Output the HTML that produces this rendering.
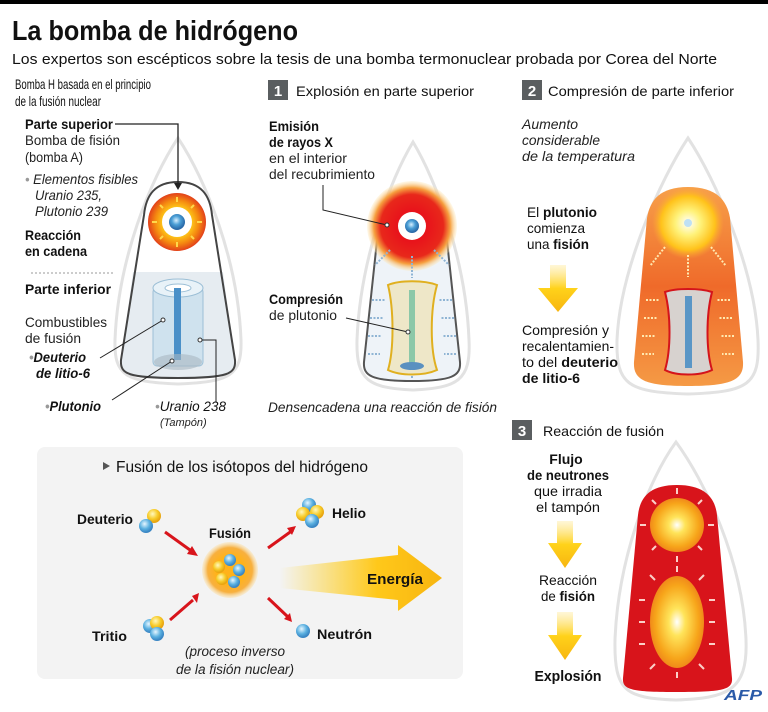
<!DOCTYPE html>
<html><head><meta charset="utf-8"><style>
html,body{margin:0;padding:0;background:#fff;}
svg{display:block;font-family:"Liberation Sans",sans-serif;}
.b{font-weight:bold}
.i{font-style:italic}
</style></head><body>
<svg width="768" height="712" viewBox="0 0 768 712" xmlns="http://www.w3.org/2000/svg">
<defs>
<radialGradient id="fis" cx="50%" cy="50%" r="50%"><stop offset="0.45" stop-color="#ffd21a"/><stop offset="0.75" stop-color="#f58a10"/><stop offset="1" stop-color="#e2401a"/></radialGradient>
<radialGradient id="core" cx="45%" cy="40%" r="55%"><stop offset="0" stop-color="#d8f0ff"/><stop offset="0.5" stop-color="#4b9fd6"/><stop offset="1" stop-color="#2a6aa8"/></radialGradient>
<radialGradient id="xr" cx="50%" cy="50%" r="50%"><stop offset="0.35" stop-color="#e8141b"/><stop offset="0.7" stop-color="#e8281b"/><stop offset="0.85" stop-color="#f6a040"/><stop offset="1" stop-color="#fde9b8" stop-opacity="0.3"/></radialGradient>
<radialGradient id="sun" cx="50%" cy="50%" r="50%"><stop offset="0" stop-color="#fff"/><stop offset="0.35" stop-color="#fff27a"/><stop offset="0.75" stop-color="#ffc21a"/><stop offset="1" stop-color="#f9a53a" stop-opacity="0"/></radialGradient>
<linearGradient id="org" x1="0" y1="0" x2="0" y2="1"><stop offset="0" stop-color="#f7a04a"/><stop offset="0.5" stop-color="#ef6a2a"/><stop offset="1" stop-color="#f59a45"/></linearGradient>
<radialGradient id="ball" cx="50%" cy="50%" r="50%"><stop offset="0" stop-color="#fff"/><stop offset="0.3" stop-color="#ffe45a"/><stop offset="0.8" stop-color="#f7a51a"/><stop offset="1" stop-color="#f08a1a"/></radialGradient>
<radialGradient id="fu" cx="50%" cy="50%" r="50%"><stop offset="0.5" stop-color="#ffb21a"/><stop offset="0.8" stop-color="#f7b040"/><stop offset="1" stop-color="#fbe0a8" stop-opacity="0.4"/></radialGradient>
<radialGradient id="bl" cx="40%" cy="35%" r="60%"><stop offset="0" stop-color="#e6f6ff"/><stop offset="0.6" stop-color="#5ab0e0"/><stop offset="1" stop-color="#3a86c4"/></radialGradient>
<radialGradient id="yl" cx="40%" cy="35%" r="60%"><stop offset="0" stop-color="#fff8c0"/><stop offset="0.6" stop-color="#f7cc2a"/><stop offset="1" stop-color="#e8a510"/></radialGradient>
<linearGradient id="en" x1="0" y1="0" x2="1" y2="0"><stop offset="0" stop-color="#ffd21a" stop-opacity="0"/><stop offset="0.6" stop-color="#ffc81a"/><stop offset="1" stop-color="#f7b510"/></linearGradient>
<linearGradient id="ya" x1="0" y1="0" x2="0" y2="1"><stop offset="0" stop-color="#ffe37a" stop-opacity="0.3"/><stop offset="0.5" stop-color="#ffd21a"/><stop offset="1" stop-color="#f7b510"/></linearGradient>
</defs>

<rect x="0" y="0" width="768" height="4" fill="#000"/>
<text x="12" y="40" font-size="28" class="b" textLength="286" lengthAdjust="spacingAndGlyphs" fill="#111">La bomba de hidrógeno</text>
<text x="12" y="64" font-size="15" textLength="705" lengthAdjust="spacingAndGlyphs" fill="#111">Los expertos son escépticos sobre la tesis de una bomba termonuclear probada por Corea del Norte</text>

<text x="15" y="89" font-size="14" textLength="136" lengthAdjust="spacingAndGlyphs" fill="#111">Bomba H basada en el principio</text>
<text x="15" y="106" font-size="14" textLength="86" lengthAdjust="spacingAndGlyphs" fill="#111">de la fusión nuclear</text>

<rect x="268" y="80" width="20" height="20" fill="#5a5e60"/><text x="278" y="96" font-size="15" class="b" fill="#fff" text-anchor="middle">1</text>
<text x="296" y="96" font-size="14" textLength="178" lengthAdjust="spacingAndGlyphs" fill="#111">Explosión en parte superior</text>
<rect x="522" y="80" width="20" height="20" fill="#5a5e60"/><text x="532" y="96" font-size="15" class="b" fill="#fff" text-anchor="middle">2</text>
<text x="548" y="96" font-size="14" textLength="186" lengthAdjust="spacingAndGlyphs" fill="#111">Compresión de parte inferior</text>

<!-- Bomb 1 -->
<path d="M178 138 C150 180 118 260 115 340 C114 375 125 382 178 384 C231 382 242 375 241 340 C238 260 206 180 178 138Z" fill="#fff" stroke="#e2e2e2" stroke-width="3"/>
<path d="M133 272 L121 360 C120 374 128 378 178 378 C228 378 236 374 235 360 L223 272Z" fill="#e6ecf1"/>
<path d="M178 182 C155 182 146 195 144 215 L121 360 C120 374 128 378 178 378 C228 378 236 374 235 360 L212 215 C210 195 201 182 178 182Z" fill="none" stroke="#444" stroke-width="2"/>
<circle cx="177" cy="222" r="29" fill="url(#fis)"/>
<circle cx="177" cy="222" r="15" fill="#fff"/>
<circle cx="177" cy="222" r="8" fill="url(#core)"/>
<g stroke="#ffd84a" stroke-width="2"><line x1="177" y1="197" x2="177" y2="202"/><line x1="177" y1="242" x2="177" y2="247"/><line x1="152" y1="222" x2="157" y2="222"/><line x1="197" y1="222" x2="202" y2="222"/><line x1="160" y1="205" x2="163" y2="208"/><line x1="191" y1="236" x2="194" y2="239"/><line x1="194" y1="205" x2="191" y2="208"/><line x1="163" y1="236" x2="160" y2="239"/></g>
<rect x="153" y="288" width="50" height="78" rx="4" fill="#cfe2ee" stroke="#9cbfd6"/>
<ellipse cx="178" cy="288" rx="25" ry="9" fill="#e8f2f8" stroke="#9cbfd6"/>
<ellipse cx="178" cy="288" rx="13" ry="4" fill="#fff" stroke="#9cbfd6"/>
<rect x="174" y="288" width="7" height="72" fill="#4a90c8"/>
<ellipse cx="178" cy="362" rx="24" ry="8" fill="#a9b8c2" opacity="0.6"/>
<text x="25" y="129" font-size="14" class="b" textLength="88" lengthAdjust="spacingAndGlyphs" fill="#111">Parte superior</text>
<polyline points="115,124 178,124 178,186" fill="none" stroke="#222" stroke-width="1.3"/>
<path d="M174 183 L178 190 L182 183Z" fill="#222"/>
<g font-size="14" fill="#222">
<text x="25" y="145" textLength="95" lengthAdjust="spacingAndGlyphs">Bomba de fisión</text>
<text x="25" y="162" textLength="58" lengthAdjust="spacingAndGlyphs">(bomba A)</text>
<text x="25" y="184" class="i" textLength="113" lengthAdjust="spacingAndGlyphs"><tspan fill="#999">•</tspan> Elementos fisibles</text>
<text x="35" y="200" class="i" textLength="67" lengthAdjust="spacingAndGlyphs">Uranio 235,</text>
<text x="35" y="216" class="i" textLength="73" lengthAdjust="spacingAndGlyphs">Plutonio 239</text>
<text x="25" y="240" class="b" fill="#111" textLength="56" lengthAdjust="spacingAndGlyphs">Reacción</text>
<text x="25" y="256" class="b" fill="#111" textLength="62" lengthAdjust="spacingAndGlyphs">en cadena</text>
<text x="25" y="294" class="b" fill="#111" textLength="86" lengthAdjust="spacingAndGlyphs">Parte inferior</text>
<text x="25" y="327" textLength="82" lengthAdjust="spacingAndGlyphs">Combustibles</text>
<text x="25" y="343" textLength="56" lengthAdjust="spacingAndGlyphs">de fusión</text>
<text x="29" y="362" class="b i" fill="#111" textLength="57" lengthAdjust="spacingAndGlyphs"><tspan fill="#999">•</tspan>Deuterio</text>
<text x="36" y="378" class="b i" fill="#111" textLength="54" lengthAdjust="spacingAndGlyphs">de litio-6</text>
<text x="45" y="411" class="b i" fill="#111" textLength="56" lengthAdjust="spacingAndGlyphs"><tspan fill="#999">•</tspan>Plutonio</text>
<text x="155" y="411" class="i" fill="#111" textLength="71" lengthAdjust="spacingAndGlyphs"><tspan fill="#999">•</tspan>Uranio 238</text>
</g>
<line x1="31" y1="273" x2="113" y2="273" stroke="#999" stroke-dasharray="2,2"/>
<text x="160" y="426" font-size="11" class="i" fill="#222">(Tampón)</text>
<g fill="none" stroke="#222" stroke-width="1"><line x1="100" y1="358" x2="163" y2="320"/><line x1="112" y1="400" x2="172" y2="361"/><polyline points="200,340 216,340 216,402"/></g>
<g fill="#fff" stroke="#333"><circle cx="163" cy="320" r="2"/><circle cx="172" cy="361" r="2"/><circle cx="200" cy="340" r="2"/></g>

<!-- Bomb 2 -->
<path d="M413 142 C390 180 360 260 357 340 C356 380 368 388 413 390 C458 388 471 380 469 340 C466 260 436 180 413 142Z" fill="#fff" stroke="#e2e2e2" stroke-width="3"/>
<path d="M412 192 C390 192 382 205 379 222 L364 362 C363 376 372 381 412 381 C452 381 461 376 460 362 L445 222 C442 205 434 192 412 192Z" fill="#eef3f8" stroke="#555" stroke-width="2"/>
<circle cx="412" cy="226" r="45" fill="url(#xr)"/>
<circle cx="412" cy="226" r="14" fill="#fff"/>
<circle cx="412" cy="226" r="7" fill="url(#core)"/>
<g stroke="#8fb4d4" stroke-width="2" stroke-dasharray="2,1.5">
<line x1="412" y1="256" x2="412" y2="278"/><line x1="390" y1="250" x2="375" y2="265"/><line x1="434" y1="250" x2="449" y2="265"/>
<line x1="372" y1="300" x2="386" y2="300"/><line x1="370" y1="318" x2="384" y2="318"/><line x1="368" y1="336" x2="382" y2="336"/><line x1="368" y1="354" x2="380" y2="354"/>
<line x1="452" y1="300" x2="438" y2="300"/><line x1="454" y1="318" x2="440" y2="318"/><line x1="456" y1="336" x2="442" y2="336"/><line x1="456" y1="354" x2="444" y2="354"/>
<line x1="412" y1="378" x2="412" y2="372"/></g>
<path d="M388 285 C400 280 424 280 437 285 C430 310 430 350 437 370 C424 376 400 376 388 370 C394 350 394 310 388 285Z" fill="#eee7c8" stroke="#e0b020" stroke-width="2"/>
<rect x="409" y="290" width="6" height="76" fill="#8cc8a8"/>
<ellipse cx="412" cy="366" rx="12" ry="4" fill="#5a90c0"/>
<g font-size="14" fill="#222">
<text x="269" y="131" class="b" fill="#111" textLength="50" lengthAdjust="spacingAndGlyphs">Emisión</text>
<text x="269" y="147" class="b" fill="#111" textLength="64" lengthAdjust="spacingAndGlyphs">de rayos X</text>
<text x="269" y="163" textLength="78" lengthAdjust="spacingAndGlyphs">en el interior</text>
<text x="269" y="179" textLength="106" lengthAdjust="spacingAndGlyphs">del recubrimiento</text>
<text x="269" y="304" class="b" fill="#111" textLength="74" lengthAdjust="spacingAndGlyphs">Compresión</text>
<text x="269" y="320" textLength="68" lengthAdjust="spacingAndGlyphs">de plutonio</text>
<text x="268" y="412" class="i" textLength="229" lengthAdjust="spacingAndGlyphs">Densencadena una reacción de fisión</text>
</g>
<polyline points="323,185 323,210 387,225" fill="none" stroke="#222"/><circle cx="387" cy="225" r="2" fill="#fff" stroke="#333"/>
<line x1="346" y1="318" x2="408" y2="332" stroke="#222"/><circle cx="408" cy="332" r="2" fill="#fff" stroke="#333"/>

<!-- Bomb 3 -->
<path d="M688 138 C660 180 620 270 617 340 C616 385 628 392 688 394 C748 392 760 385 758 340 C755 270 716 180 688 138Z" fill="#fff" stroke="#e2e2e2" stroke-width="3"/>
<path d="M688 187 C660 187 650 200 647 218 L634 362 C633 380 645 386 688 386 C731 386 744 380 743 362 L730 218 C727 200 716 187 688 187Z" fill="url(#org)"/>
<circle cx="688" cy="223" r="36" fill="url(#sun)"/>
<circle cx="688" cy="223" r="4" fill="#bfe0f4"/>
<g stroke="#ffe9b0" stroke-width="2" stroke-dasharray="2,1.5">
<line x1="688" y1="255" x2="688" y2="277"/><line x1="665" y1="247" x2="650" y2="266"/><line x1="711" y1="247" x2="726" y2="266"/>
<line x1="646" y1="300" x2="660" y2="300"/><line x1="644" y1="318" x2="658" y2="318"/><line x1="642" y1="336" x2="656" y2="336"/><line x1="642" y1="354" x2="654" y2="354"/>
<line x1="730" y1="300" x2="716" y2="300"/><line x1="732" y1="318" x2="718" y2="318"/><line x1="734" y1="336" x2="720" y2="336"/><line x1="734" y1="354" x2="722" y2="354"/></g>
<path d="M665 292 C676 288 700 288 712 292 C706 315 706 350 712 370 C700 376 676 376 665 370 C671 350 671 315 665 292Z" fill="#d7d2cf" stroke="#d4141b" stroke-width="2"/>
<rect x="685" y="296" width="7" height="72" fill="#5a96c6"/>
<g font-size="14" fill="#111">
<text x="522" y="129" class="i" fill="#222" textLength="56" lengthAdjust="spacingAndGlyphs">Aumento</text>
<text x="522" y="145" class="i" fill="#222" textLength="78" lengthAdjust="spacingAndGlyphs">considerable</text>
<text x="522" y="161" class="i" fill="#222" textLength="113" lengthAdjust="spacingAndGlyphs">de la temperatura</text>
<text x="527" y="217" textLength="70" lengthAdjust="spacingAndGlyphs">El <tspan class="b">plutonio</tspan></text>
<text x="527" y="233" textLength="58" lengthAdjust="spacingAndGlyphs">comienza</text>
<text x="527" y="249" textLength="62" lengthAdjust="spacingAndGlyphs">una <tspan class="b">fisión</tspan></text>
<text x="522" y="335" textLength="87" lengthAdjust="spacingAndGlyphs">Compresión y</text>
<text x="522" y="351" textLength="92" lengthAdjust="spacingAndGlyphs">recalentamien-</text>
<text x="522" y="367" textLength="96" lengthAdjust="spacingAndGlyphs">to del <tspan class="b">deuterio</tspan></text>
<text x="522" y="383" class="b" textLength="58" lengthAdjust="spacingAndGlyphs">de litio-6</text>
</g>
<path d="M550 265 L566 265 L566 288 L578 288 L558 312 L538 288 L550 288Z" fill="url(#ya)"/>

<!-- Section 3 -->
<rect x="512" y="420" width="20" height="20" fill="#5a5e60"/><text x="522" y="436" font-size="15" class="b" fill="#fff" text-anchor="middle">3</text>
<text x="543" y="436" font-size="14" fill="#111" textLength="121" lengthAdjust="spacingAndGlyphs">Reacción de fusión</text>
<path d="M676 442 C648 480 618 560 615 640 C614 692 626 698 676 700 C726 698 748 692 746 640 C743 560 704 480 676 442Z" fill="#fff" stroke="#e2e2e2" stroke-width="3"/>
<path d="M677 485 C650 485 640 497 638 515 L623 678 C622 690 632 692 677 692 C722 692 733 690 732 678 L717 515 C715 497 704 485 677 485Z" fill="#d8141b"/>
<circle cx="677" cy="525" r="27" fill="url(#ball)"/>
<ellipse cx="677" cy="622" rx="27" ry="46" fill="url(#ball)"/>
<g stroke="#fbd0c8" stroke-width="2">
<line x1="677" y1="494" x2="677" y2="488"/><line x1="677" y1="556" x2="677" y2="562"/><line x1="646" y1="525" x2="640" y2="525"/><line x1="708" y1="525" x2="714" y2="525"/>
<line x1="656" y1="504" x2="652" y2="500"/><line x1="698" y1="504" x2="702" y2="500"/><line x1="656" y1="546" x2="652" y2="550"/><line x1="698" y1="546" x2="702" y2="550"/>
<line x1="677" y1="572" x2="677" y2="566"/><line x1="677" y1="672" x2="677" y2="678"/>
<line x1="645" y1="600" x2="639" y2="600"/><line x1="645" y1="622" x2="639" y2="622"/><line x1="645" y1="644" x2="639" y2="644"/>
<line x1="709" y1="600" x2="715" y2="600"/><line x1="709" y1="622" x2="715" y2="622"/><line x1="709" y1="644" x2="715" y2="644"/>
<line x1="655" y1="580" x2="650" y2="575"/><line x1="699" y1="580" x2="704" y2="575"/><line x1="655" y1="664" x2="650" y2="669"/><line x1="699" y1="664" x2="704" y2="669"/></g>
<g font-size="14" text-anchor="middle" fill="#111">
<text x="566" y="464" class="b">Flujo</text>
<text x="568" y="480" class="b" textLength="82" lengthAdjust="spacingAndGlyphs">de neutrones</text>
<text x="568" y="496" textLength="68" lengthAdjust="spacingAndGlyphs">que irradia</text>
<text x="568" y="512" textLength="64" lengthAdjust="spacingAndGlyphs">el tampón</text>
<text x="568" y="585" textLength="58" lengthAdjust="spacingAndGlyphs">Reacción</text>
<text x="568" y="601" textLength="54" lengthAdjust="spacingAndGlyphs">de <tspan class="b">fisión</tspan></text>
<text x="568" y="681" class="b" font-size="15" textLength="67" lengthAdjust="spacingAndGlyphs">Explosión</text>
</g>
<path d="M557 521 L573 521 L573 543 L582 543 L565 568 L548 543 L557 543Z" fill="url(#ya)"/>
<path d="M557 612 L573 612 L573 635 L582 635 L565 660 L548 635 L557 635Z" fill="url(#ya)"/>
<text x="724" y="700" font-size="15" class="b i" fill="#2a5aa8" textLength="38" lengthAdjust="spacingAndGlyphs">AFP</text>

<!-- Fusion box -->
<rect x="37" y="447" width="426" height="232" rx="8" fill="#f3f3f3"/>
<path d="M103 462 L103 470 L110 466Z" fill="#555"/>
<text x="116" y="472" font-size="15.5" textLength="252" lengthAdjust="spacingAndGlyphs" fill="#111">Fusión de los isótopos del hidrógeno</text>
<g font-size="14" class="b" fill="#111">
<text x="77" y="524" textLength="56" lengthAdjust="spacingAndGlyphs">Deuterio</text>
<text x="209" y="538" textLength="42" lengthAdjust="spacingAndGlyphs">Fusión</text>
<text x="332" y="518" textLength="34" lengthAdjust="spacingAndGlyphs">Helio</text>
<text x="92" y="641" textLength="35" lengthAdjust="spacingAndGlyphs">Tritio</text>
<text x="317" y="639" textLength="55" lengthAdjust="spacingAndGlyphs">Neutrón</text>
</g>
<text x="235" y="656" font-size="13.5" class="i" text-anchor="middle" fill="#222" textLength="100" lengthAdjust="spacingAndGlyphs">(proceso inverso</text>
<text x="235" y="674" font-size="13.5" class="i" text-anchor="middle" fill="#222" textLength="118" lengthAdjust="spacingAndGlyphs">de la fisión nuclear)</text>
<circle cx="154" cy="516" r="7" fill="url(#yl)"/><circle cx="146" cy="526" r="7" fill="url(#bl)"/>
<circle cx="150" cy="626" r="7" fill="url(#bl)"/><circle cx="157" cy="623" r="7" fill="url(#yl)"/><circle cx="157" cy="634" r="7" fill="url(#bl)"/>
<circle cx="309" cy="505" r="7" fill="url(#bl)"/><circle cx="303" cy="514" r="7" fill="url(#yl)"/><circle cx="317" cy="512" r="7" fill="url(#yl)"/><circle cx="312" cy="521" r="7" fill="url(#bl)"/>
<circle cx="303" cy="631" r="7" fill="url(#bl)"/>
<circle cx="230" cy="570" r="28" fill="url(#fu)"/>
<circle cx="219" cy="567" r="6" fill="url(#yl)"/><circle cx="230" cy="560" r="6" fill="url(#bl)"/><circle cx="239" cy="570" r="6" fill="url(#bl)"/><circle cx="222" cy="579" r="6" fill="url(#yl)"/><circle cx="234" cy="582" r="6" fill="url(#bl)"/>
<path d="M280 568 L398 555 L398 545 L442 578 L398 611 L398 600 L280 588Z" fill="url(#en)"/>
<text x="367" y="584" font-size="15" class="b" fill="#111" textLength="56" lengthAdjust="spacingAndGlyphs">Energía</text>
<g stroke="#d8141b" stroke-width="3" fill="none"><line x1="165" y1="532" x2="190" y2="550"/><line x1="170" y1="620" x2="193" y2="600"/><line x1="268" y1="548" x2="293" y2="530"/><line x1="268" y1="598" x2="288" y2="617"/></g>
<g fill="#d8141b"><path d="M192 546 L198 556 L187 554Z"/><path d="M192 596 L199 593 L197 603Z"/><path d="M296 526 L292 535 L287 528Z"/><path d="M292 622 L284 619 L290 613Z"/></g>
</svg>
</body></html>
